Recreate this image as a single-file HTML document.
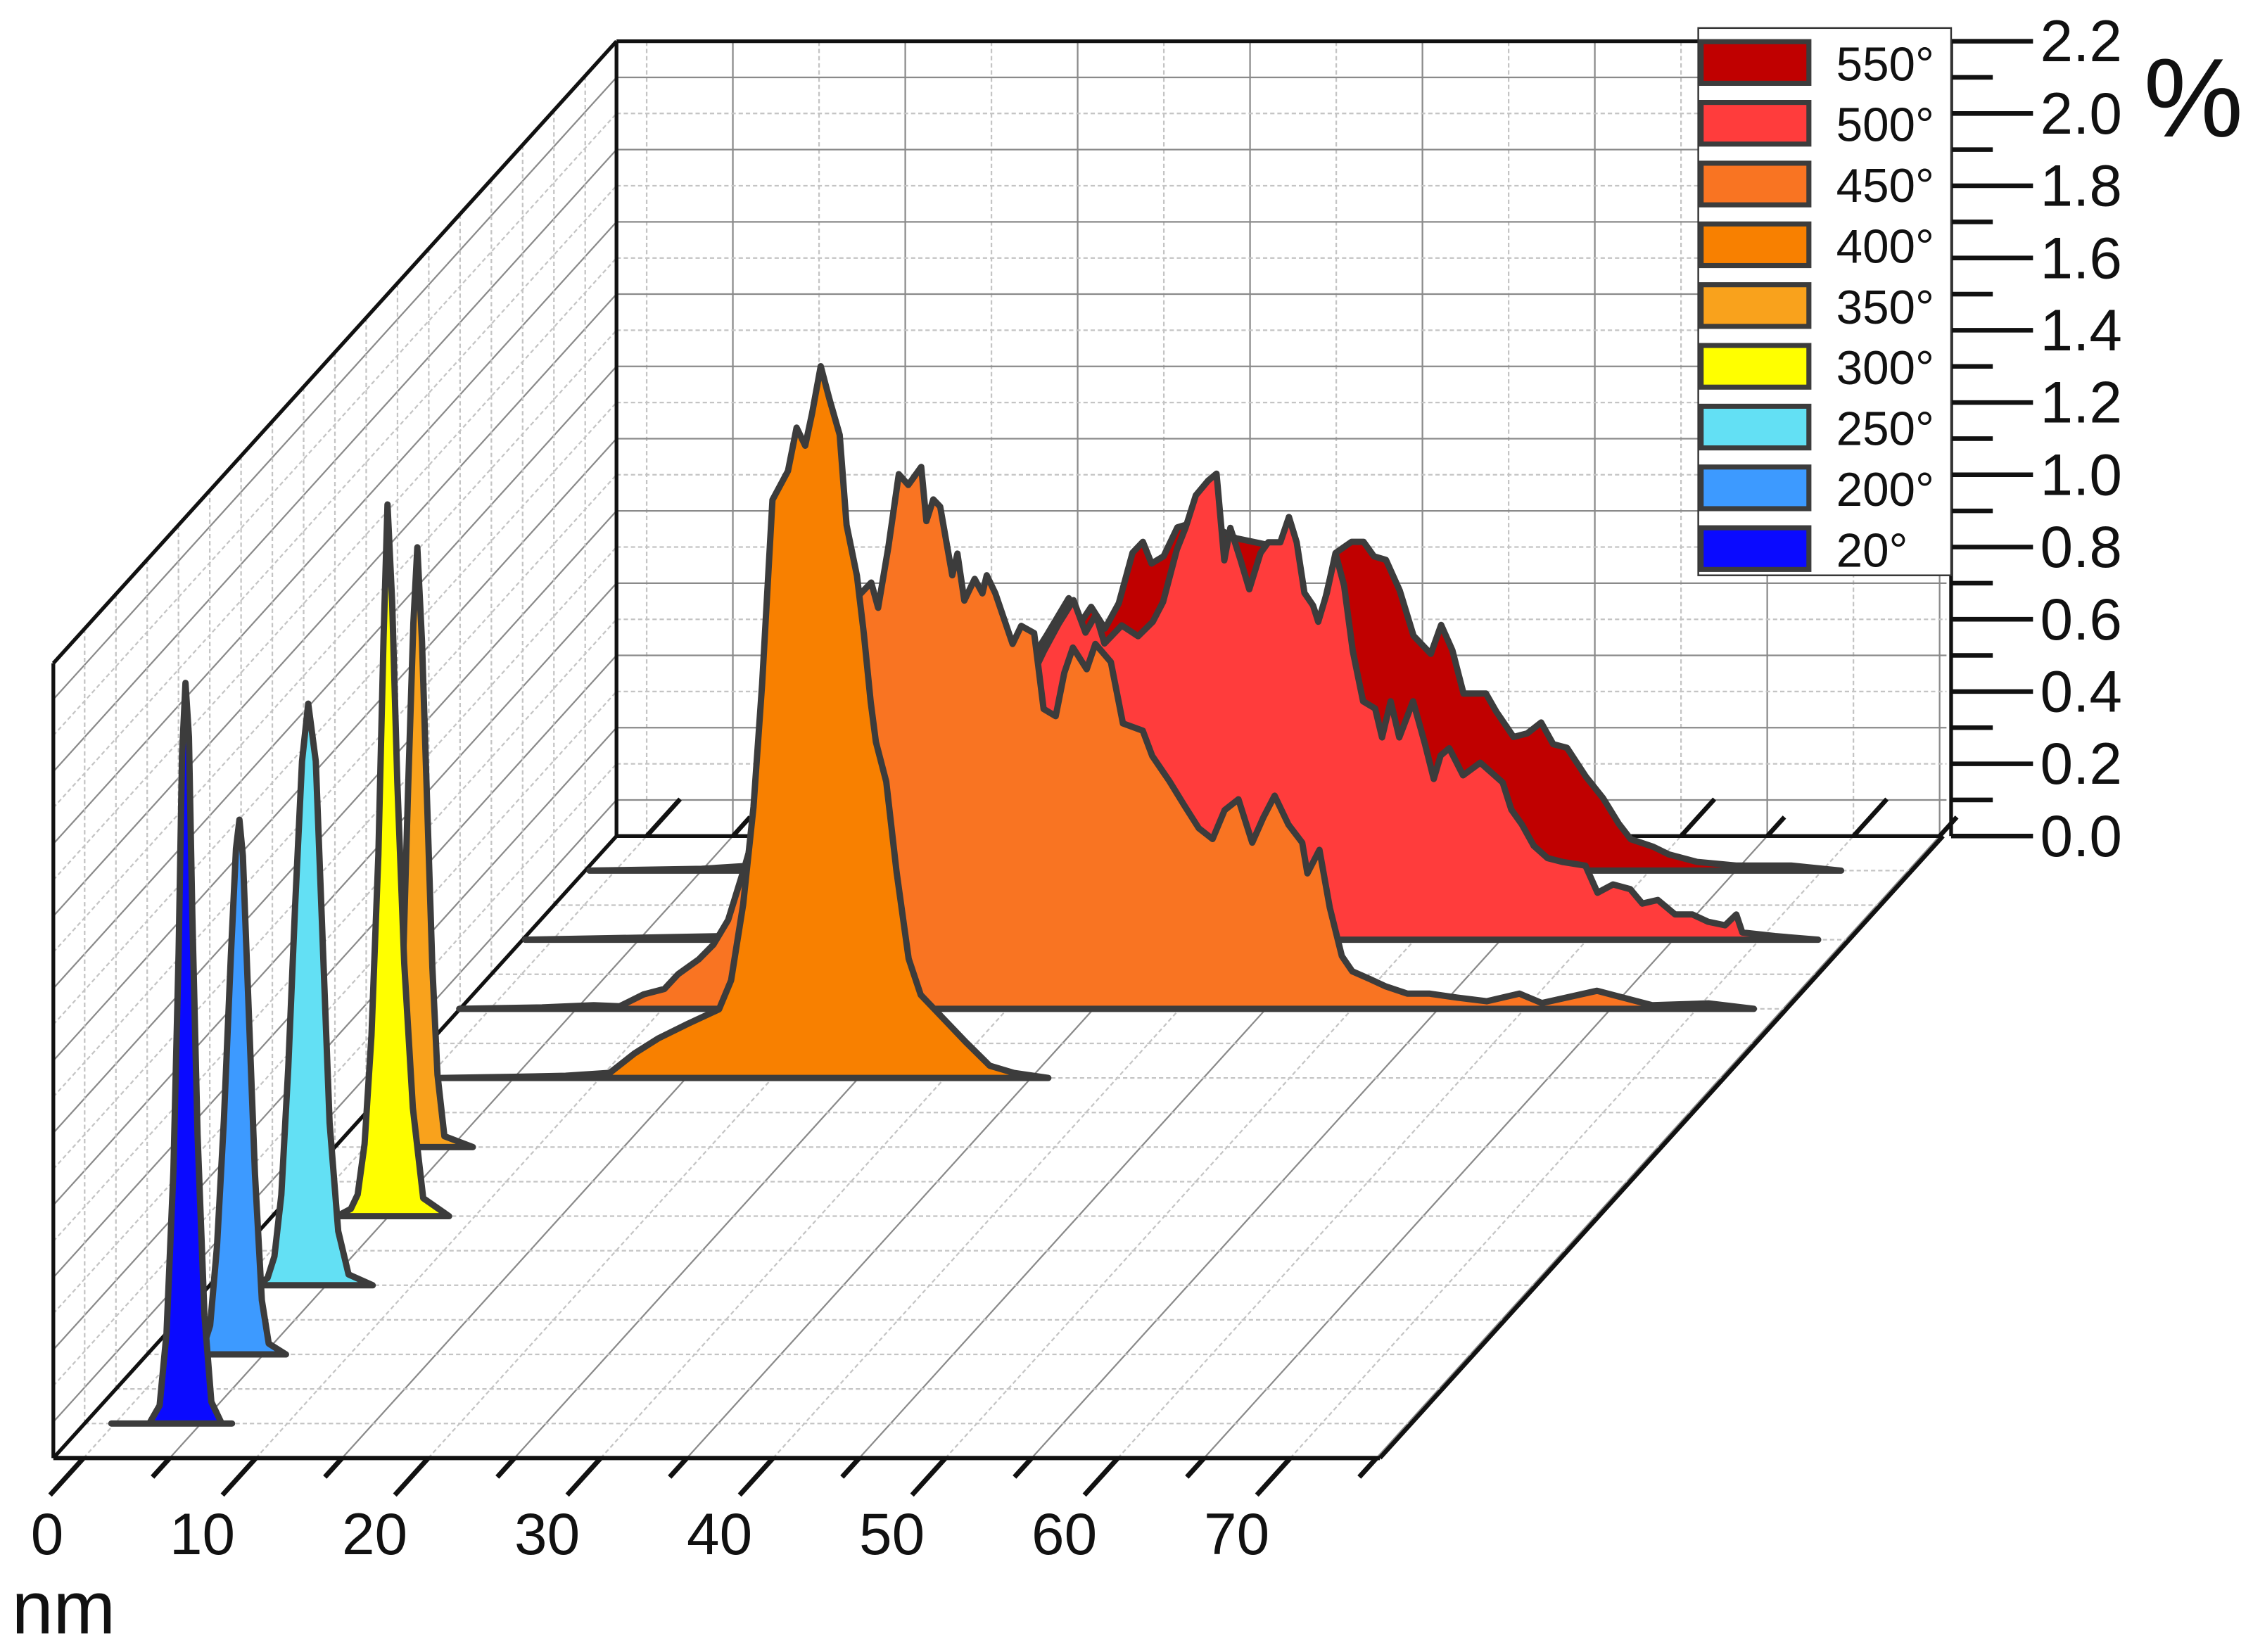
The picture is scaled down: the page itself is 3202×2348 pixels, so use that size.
<!DOCTYPE html>
<html><head><meta charset="utf-8">
<style>
html,body{margin:0;padding:0;background:#fff;}
svg{display:block;}
text{font-family:"Liberation Sans",Arial,sans-serif;fill:#111;}
</style></head>
<body>
<svg id="chart" xmlns="http://www.w3.org/2000/svg" width="3202" height="2348" viewBox="0 0 1568 1150">
<g id="grid"></g>
<g id="series"></g>
<g id="axes"></g>
<g id="legend"></g>
</svg>
<script>
// ---- data ----
const seriesLabels = ["550°","500°","450°","400°","350°","300°","250°","200°","20°"];
const seriesColors = ["#c00000","#ff3c3c","#f97422","#f88000","#f9a21c","#ffff00","#63e0f4","#3d9aff","#0a0aff"];
const seriesDepth = [17,15,13,11,9,7,5,3,1];
const xTickLabels = [0,10,20,30,40,50,60,70];
const yTickLabels = ["0.0","0.2","0.4","0.6","0.8","1.0","1.2","1.4","1.6","1.8","2.0","2.2"];

const x550 = [-1.5,5,10,15,20,23,25,26.3,26.9,27.6,28.4,29.2,30.0,30.6,31.1,31.8,32.6,34,36,38,40.5,40.97,41.8,42.7,43.4,44.0,44.7,45.5,46.3,47.3,47.9,48.55,49.2,50.5,51.1,52.1,52.9,53.7,54.4,55.2,56.3,57.3,58.2,58.9,60.2,61.1,62.75,65.0,68.2,71.1];
const z550 = [0,0.005,0.02,0.08,0.3,0.5,0.65,0.754,0.68,0.73,0.67,0.74,0.88,0.91,0.85,0.87,0.95,0.97,0.92,0.9,0.70,0.71,0.88,0.91,0.91,0.87,0.86,0.775,0.65,0.60,0.68,0.61,0.49,0.49,0.44,0.37,0.38,0.41,0.35,0.34,0.26,0.20,0.13,0.087,0.066,0.045,0.024,0.014,0.014,0];

const x500 = [-1.6,10,15,20,24,27,28.5,29.35,30.2,30.9,31.5,32.0,33.0,33.95,34.8,35.4,36.2,36.7,37.3,38.0,38.5,38.95,39.3,39.9,40.4,41.05,41.5,42.2,42.7,43.15,43.6,44.1,44.4,44.9,45.4,45.9,46.4,47.0,47.7,48.1,48.6,49.1,49.9,50.6,51.1,51.5,52.0,52.8,53.8,55.1,55.6,56.2,56.9,57.7,58.6,59.9,60.6,61.5,62.5,63.2,64.1,65.1,66.1,67.0,68.0,68.65,69.0,70.9,73.4];
const z500 = [0,0.01,0.03,0.15,0.4,0.65,0.8,0.875,0.94,0.85,0.90,0.82,0.87,0.84,0.88,0.935,1.08,1.14,1.23,1.27,1.29,1.05,1.14,1.05,0.97,1.07,1.10,1.10,1.17,1.10,0.96,0.925,0.88,0.96,1.07,0.98,0.80,0.66,0.64,0.56,0.66,0.56,0.66,0.54,0.445,0.51,0.53,0.455,0.49,0.435,0.36,0.32,0.26,0.226,0.215,0.205,0.13,0.153,0.14,0.10,0.11,0.07,0.07,0.05,0.04,0.07,0.02,0.01,0];

const x450 = [-1.8,3,6,7.5,8.9,10.1,10.9,12.1,12.95,13.8,14.8,16,17.5,19,20.5,21.5,22.1,22.5,23.1,23.7,24.25,24.7,25.0,25.3,25.7,26.1,26.8,27.1,27.5,28.1,28.55,28.8,29.3,30.3,30.8,31.55,32.1,32.8,33.3,33.8,34.6,35.1,36.0,36.7,37.85,38.4,39.4,40.3,41.1,41.9,42.6,43.4,44.2,44.85,45.5,46.3,47.1,47.4,48.1,48.7,49.4,50.0,51.0,51.95,53.2,54.5,56.1,57.8,59.7,61.0,64.2,67.4,70.7,73.3];
const z450 = [0,0.004,0.01,0.007,0.04,0.055,0.096,0.137,0.178,0.246,0.4,0.6,0.8,0.95,1.1,1.15,1.18,1.11,1.28,1.48,1.45,1.48,1.50,1.35,1.41,1.39,1.20,1.26,1.13,1.19,1.15,1.20,1.15,1.01,1.06,1.04,0.83,0.81,0.93,1.00,0.94,1.01,0.96,0.79,0.77,0.70,0.63,0.56,0.50,0.47,0.55,0.58,0.46,0.53,0.59,0.51,0.46,0.375,0.44,0.28,0.146,0.104,0.083,0.062,0.042,0.042,0.031,0.021,0.042,0.016,0.05,0.01,0.015,0];

const x400 = [0.8,5,8,10.56,12.0,13.4,15.1,16.9,17.6,18.3,18.9,19.4,20.0,20.9,21.4,21.9,22.3,22.8,23.3,23.9,24.3,24.9,25.3,25.7,26.0,26.6,27.2,27.9,28.6,30.0,31.2,32.6,34.0,36.0];
const z400 = [0,0.003,0.006,0.014,0.068,0.11,0.15,0.19,0.27,0.48,0.75,1.09,1.60,1.68,1.80,1.75,1.84,1.97,1.88,1.78,1.53,1.39,1.23,1.04,0.93,0.82,0.57,0.33,0.23,0.16,0.10,0.034,0.014,0];

const x350 = [0.5,1.3,1.8,2.2,2.5,2.8,3.03,3.3,3.6,3.9,4.2,4.6,6.25];
const z350 = [0,0.03,0.15,0.5,1.0,1.45,1.66,1.4,0.95,0.5,0.2,0.03,0];
const x300 = [2.0,2.8,3.2,3.6,4.0,4.4,4.7,4.93,5.2,5.5,5.9,6.4,7.0,8.5];
const z300 = [0,0.02,0.06,0.2,0.5,1.0,1.6,1.97,1.7,1.2,0.7,0.3,0.05,0];
const x250 = [1.0,1.6,2.0,2.4,2.8,3.2,3.6,3.96,4.4,4.8,5.2,5.7,6.3,7.7];
const z250 = [0,0.02,0.08,0.25,0.6,1.05,1.45,1.61,1.45,0.95,0.45,0.15,0.03,0];
const x200 = [0.5,1.5,1.9,2.3,2.7,3.1,3.4,3.6,3.8,4.1,4.5,4.9,5.3,6.3];
const z200 = [0,0.02,0.08,0.3,0.65,1.1,1.4,1.48,1.38,1.0,0.5,0.15,0.03,0];
const x20 = [-0.2,2.0,2.6,3.0,3.4,3.7,3.9,4.1,4.3,4.5,4.8,5.2,5.6,6.2,6.8];
const z20 = [0,0,0.05,0.25,0.7,1.3,1.85,2.05,1.9,1.4,0.8,0.3,0.06,0,0];

const seriesX = [x550,x500,x450,x400,x350,x300,x250,x200,x20];
const seriesZ = [z550,z500,z450,z400,z350,z300,z250,z200,z20];

// ---- projection ----
const X0=58, PXNM=12, DX=392/18, DY=433/18, FRONTY=1015, PZ=251.5;
const XMIN=-1.75, XMAX=75.2, KMAX=18, ZMAX=2.2;
function P(x,k,z){ return [X0+PXNM*x+DX*k, FRONTY-DY*k-PZ*z]; }
const NS="http://www.w3.org/2000/svg";
function mk(tag,attrs,parent){ const e=document.createElementNS(NS,tag); for(const a in attrs) e.setAttribute(a,attrs[a]); parent.appendChild(e); return e; }
function line(p1,p2,st,parent){ return mk("line",Object.assign({x1:p1[0].toFixed(2),y1:p1[1].toFixed(2),x2:p2[0].toFixed(2),y2:p2[1].toFixed(2)},st),parent); }
const solid={stroke:"#8a8a8a","stroke-width":1.1};
const dashed={stroke:"#c4c4c4","stroke-width":1.1,"stroke-dasharray":"3 2"};
const grid=document.getElementById("grid");
const blk={stroke:"#111","stroke-width":2.6};

// back wall grid
for(let n=0;n*5<=XMAX;n++){
  const x=n*5; const st=(n%2)?solid:dashed;
  const l=line(P(x,KMAX,0),P(x,KMAX,ZMAX),st,grid);
  
  
  const f=line(P(x,0,0),P(x,KMAX,0),st,grid);
  
  
}
for(let i=1;i<22;i++){
  const z=i/10; const st=(i%2)?solid:dashed;
  const l=line(P(XMIN,KMAX,z),P(XMAX+0.2,KMAX,z),st,grid);
  
  
  const w=line(P(XMIN,0,z),P(XMIN,KMAX,z),st,grid);
  
  
}
for(let k=1;k<KMAX;k++){
  const l=line(P(XMIN,k,0),P(XMIN,k,ZMAX),dashed,grid);
  
  
  const f=line(P(XMIN,k,0),P(XMAX,k,0),dashed,grid);
  
  
}
// frame edges behind series
const backFrame=[[P(XMIN,KMAX,0),P(XMAX,KMAX,0)],[P(XMIN,0,0),P(XMIN,0,ZMAX)],[P(XMIN,0,ZMAX),P(XMIN,KMAX,ZMAX)],
 [P(XMIN,KMAX,0),P(XMIN,KMAX,ZMAX)],[P(XMIN,KMAX,ZMAX),P(XMAX+0.2,KMAX,ZMAX)],[P(XMIN,0,0),P(XMIN,KMAX,0)]];
for(const f of backFrame){
  const l=line(f[0],f[1],blk,grid);
  
  
}
for(let n=0;n*5<=XMAX;n++){
  const x=n*5, len=(n%2===0)?1.07:0.55;
  const tb=line(P(x,KMAX,0),P(x,KMAX+len,0),{stroke:"#111","stroke-width":3.2},grid);
  
  
}

// series
const sg=document.getElementById("series");
for(let s=0;s<seriesX.length;s++){
  const xs=seriesX[s], zs=seriesZ[s], k=seriesDepth[s];
  let d="";
  const b0=P(xs[0],k,0); d+="M"+b0[0].toFixed(2)+","+b0[1].toFixed(2);
  for(let i=0;i<xs.length;i++){ const p=P(xs[i],k,zs[i]); d+="L"+p[0].toFixed(2)+","+p[1].toFixed(2); }
  const b1=P(xs[xs.length-1],k,0); d+="L"+b1[0].toFixed(2)+","+b1[1].toFixed(2)+"Z";
  const path=mk("path",{d:d,fill:seriesColors[s],stroke:"#3c3c3c","stroke-width":4.4,"stroke-linejoin":"round"},sg);
  
  
}

// axes / front frame
const ax=document.getElementById("axes");
const frontFrame=[[P(XMIN,0,0),P(XMAX,0,0)],[P(XMAX,0,0),P(XMAX,KMAX,0)]];
for(const f of frontFrame){
  const l=line(f[0],f[1],{stroke:"#111","stroke-width":3},ax);
  
  
}
for(let n=0;n*5<=XMAX;n++){
  const x=n*5, len=(n%2===0)?1.07:0.55;
  const t=line(P(x,0,0),P(x,-len,0),{stroke:"#111","stroke-width":3.4},ax);
  
  
}
for(let i=0;i<xTickLabels.length;i++){
  const p=P(xTickLabels[i],-1.07,0);
  const t=mk("text",{x:(p[0]-(i===0?2:14)).toFixed(1),y:1082,"font-size":41,"text-anchor":"middle"},ax);
  t.textContent=xTickLabels[i];
  
  
}
const nm=mk("text",{x:8,y:1137,"font-size":52},ax); nm.textContent="nm";


// y axis
const AXX=1358;
const yl=line([AXX,P(0,KMAX,0)[1]],[AXX,P(0,KMAX,ZMAX)[1]],blk,ax);


for(let i=0;i<=22;i++){
  const y=P(0,KMAX,i/10)[1];
  const t=line([AXX,y],[i%2===0?1415:1387,y],{stroke:"#111","stroke-width":3.2},ax);
  
  
}
for(let i=0;i<yTickLabels.length;i++){
  const y=P(0,KMAX,parseFloat(yTickLabels[i]))[1];
  const t=mk("text",{x:1420,y:(y+14).toFixed(1),"font-size":41},ax);
  t.textContent=yTickLabels[i];
  
  
}
const pc=mk("text",{x:1492,y:95,"font-size":78},ax); pc.textContent="%";



// legend
const lg=document.getElementById("legend");
const box=mk("rect",{x:1182,y:19.5,width:176,height:381,fill:"#fff",stroke:"#333","stroke-width":1.2},lg);


for(let i=0;i<seriesLabels.length;i++){
  const y=29+i*42.3;
  const g=mk("g",{},lg);
  
  
  const r=mk("rect",{x:1184,y:y,width:75,height:29,fill:seriesColors[i],stroke:"#3c3c3c","stroke-width":3.5},g);
  
  
  const t=mk("text",{x:1278,y:y+27,"font-size":33},g);
  t.textContent=seriesLabels[i];
  
  
}
</script>
</body></html>
